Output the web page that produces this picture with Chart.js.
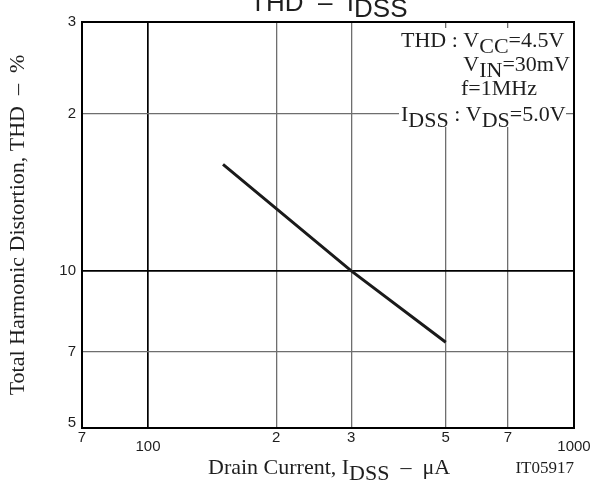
<!DOCTYPE html>
<html>
<head>
<meta charset="utf-8">
<script src="https://cdn.jsdelivr.net/npm/chart.js@4.4.1/dist/chart.umd.min.js"></script>
<style>
  html, body { margin: 0; padding: 0; background: #fff; }
</style>
</head>
<body>
<canvas id="chart" width="592" height="480"></canvas>
<script>
// THD vs IDSS curve
const curveX = [150, 300, 500];
const curveY = [16, 10, 7.3];

const xTicks = [70, 100, 200, 300, 500, 700, 1000];
const xTickLabels = ['7', '100', '2', '3', '5', '7', '1000'];
const xDecades = [100, 1000];

const yTicks = [5, 7, 10, 20, 30];
const yTickLabels = ['5', '7', '10', '2', '3'];
const yDecades = [10];

const SERIF = "'Liberation Serif', 'Times New Roman', serif";
const SANS = "'Liberation Sans', Arial, sans-serif";
const INK = '#1e1e1e';
const SUB = 6;

// draw a row of text pieces, some of them lowered as subscripts
function drawRuns(ctx, x, y, runs, align) {
    let w = 0;
    runs.forEach(r => { w += ctx.measureText(r[0]).width; });
    let cx = align === 'right' ? x - w : x;
    runs.forEach(r => {
        ctx.fillText(r[0], cx, y + (r[1] ? SUB : 0));
        cx += ctx.measureText(r[0]).width;
    });
}

function gridColor(ctx, decades, ends) {
    const v = ctx.tick && ctx.tick.value;
    return decades.includes(v) || ends.includes(v) ? '#000' : '#6e6e6e';
}
function gridWidth(ctx, decades, ends) {
    const v = ctx.tick && ctx.tick.value;
    if (ends.includes(v)) return 2;
    return decades.includes(v) ? 1.7 : 1.3;
}

const annotations = {
    id: 'annotations',
    beforeDatasetsDraw(chart) {
        const ctx = chart.ctx;
        ctx.save();
        ctx.fillStyle = '#fff';
        ctx.fillRect(399, 28, 167, 99);
        ctx.restore();
    },
    afterDraw(chart) {
        const ctx = chart.ctx;
        const a = chart.chartArea;
        ctx.save();
        // frame
        ctx.strokeStyle = '#000';
        ctx.lineWidth = 2;
        ctx.strokeRect(a.left, a.top, a.right - a.left, a.bottom - a.top);

        ctx.fillStyle = INK;
        ctx.textBaseline = 'alphabetic';

        // title, cut by the top edge
        ctx.font = '26px ' + SANS;
        drawRuns(ctx, 250, 11, [['THD  \u2013  I', 0], ['DSS', 1]], 'left');

        // conditions box
        ctx.font = '22px ' + SERIF;
        const vx = 401 + ctx.measureText('THD : ').width;
        drawRuns(ctx, 401, 47, [['THD : V', 0], ['CC', 1], ['=4.5V', 0]], 'left');
        drawRuns(ctx, vx, 71, [['V', 0], ['IN', 1], ['=30mV', 0]], 'left');
        drawRuns(ctx, 461, 95, [['f=1MHz', 0]], 'left');
        drawRuns(ctx, 401, 121, [['I', 0], ['DSS', 1], [' : V', 0], ['DS', 1], ['=5.0V', 0]], 'left');

        // x axis title
        ctx.font = '22px ' + SERIF;
        drawRuns(ctx, 208, 474, [['Drain Current, I', 0], ['DSS', 1], ['  \u2013  \u03bcA', 0]], 'left');

        ctx.font = '17px ' + SERIF;
        drawRuns(ctx, 574, 473, [['IT05917', 0]], 'right');
        ctx.restore();
    }
};

new Chart(document.getElementById('chart'), {
    type: 'scatter',
    data: {
        datasets: [{
            data: curveX.map((x, i) => ({ x, y: curveY[i] })),
            showLine: true,
            borderColor: '#1a1a1a',
            borderWidth: 3,
            pointRadius: 0,
            tension: 0,
        }]
    },
    options: {
        responsive: false,
        animation: false,
        layout: { padding: { top: 22, right: 18, bottom: 0, left: 0 } },
        plugins: {
            legend: { display: false },
            tooltip: { enabled: false }
        },
        scales: {
            x: {
                type: 'logarithmic',
                min: 70,
                max: 1000,
                afterBuildTicks: s => { s.ticks = xTicks.map(v => ({ value: v })); },
                afterFit: s => { s.height = 52; s.paddingLeft = 0; s.paddingRight = 0; },
                border: { color: '#000', width: 2 },
                grid: {
                    drawTicks: false,
                    color: c => gridColor(c, xDecades, [70, 1000]),
                    lineWidth: c => gridWidth(c, xDecades, [70, 1000]),
                },
                ticks: {
                    autoSkip: false,
                    maxRotation: 0,
                    minRotation: 0,
                    padding: 3,
                    color: INK,
                    font: c => (c.tick && xDecades.includes(c.tick.value))
                        ? { family: SANS, size: 15, lineHeight: '10.7px' }
                        : { family: SANS, size: 15, lineHeight: '14px' },
                    callback: (v, i) => xDecades.includes(xTicks[i]) ? ['', xTickLabels[i]] : xTickLabels[i],
                }
            },
            y: {
                type: 'logarithmic',
                min: 5,
                max: 30,
                afterBuildTicks: s => { s.ticks = yTicks.map(v => ({ value: v })); },
                afterFit: s => { s.width = 82; s.paddingTop = 0; s.paddingBottom = 0; },
                border: { color: '#000', width: 2 },
                grid: {
                    drawTicks: false,
                    color: c => gridColor(c, yDecades, [5, 30]),
                    lineWidth: c => gridWidth(c, yDecades, [5, 30]),
                },
                ticks: {
                    padding: 6,
                    color: INK,
                    font: c => (c.index === 0)
                        ? { family: SANS, size: 15, lineHeight: '10px' }
                        : { family: SANS, size: 15, lineHeight: '14px' },
                    callback: (v, i) => i === 0 ? [yTickLabels[0], ''] : yTickLabels[i],
                },
                title: {
                    display: true,
                    text: 'Total Harmonic Distortion, THD  \u2013  %',
                    color: INK,
                    font: { family: SERIF, size: 22 },
                    padding: { top: 5, bottom: 0 },
                }
            }
        }
    },
    plugins: [annotations]
});
</script>
</body>
</html>
